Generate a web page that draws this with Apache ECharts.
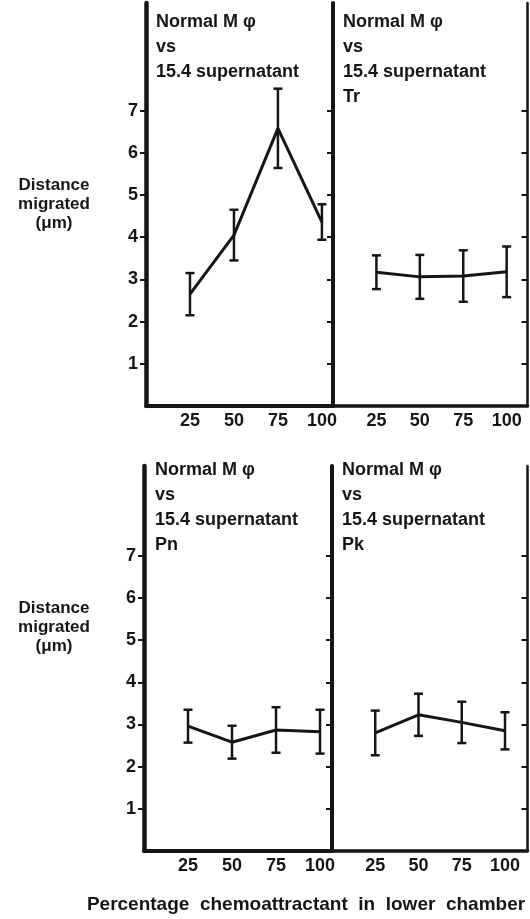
<!DOCTYPE html>
<html>
<head>
<meta charset="utf-8">
<script src="https://cdn.jsdelivr.net/npm/echarts@6/dist/echarts.min.js"></script>
<style>
  html, body { margin: 0; padding: 0; background: #fff; }
  #chart { width: 530px; height: 919px; }
</style>
</head>
<body>
<div id="chart"></div>
<script>
// percentage chemoattractant in lower chamber
const percentages = [25, 50, 75, 100];
const yTickValues = [1, 2, 3, 4, 5, 6, 7];

// mean distance migrated (µm) and error (half bar) per panel
const controlMean = [2.65, 4.05, 6.58, 4.36];
const controlErr = [0.5, 0.6, 0.94, 0.42];
const trMean = [3.17, 3.06, 3.08, 3.18];
const trErr = [0.4, 0.52, 0.61, 0.6];
const pnMean = [2.96, 2.58, 2.87, 2.83];
const pnErr = [0.39, 0.39, 0.54, 0.52];
const pkMean = [2.8, 3.23, 3.05, 2.85];
const pkErr = [0.53, 0.5, 0.49, 0.44];

const ink = '#161616';
const font = '"Liberation Sans", Arial, sans-serif';

const chart = echarts.init(document.getElementById('chart'));

function errorBarItem(params, api) {
  const x = api.value(0);
  const lo = api.coord([x, api.value(1)]);
  const hi = api.coord([x, api.value(2)]);
  const w = 4.5;
  const st = { stroke: ink, lineWidth: 2.5 };
  return {
    type: 'group',
    children: [
      { type: 'line', shape: { x1: lo[0], y1: lo[1], x2: hi[0], y2: hi[1] }, style: st },
      { type: 'line', shape: { x1: lo[0] - w, y1: lo[1], x2: lo[0] + w, y2: lo[1] }, style: st },
      { type: 'line', shape: { x1: hi[0] - w, y1: hi[1], x2: hi[0] + w, y2: hi[1] }, style: st }
    ]
  };
}

function panelSeries(mean, err, idx, yIdx) {
  return [
    {
      type: 'line',
      xAxisIndex: idx,
      yAxisIndex: yIdx,
      data: percentages.map((p, i) => [p, mean[i]]),
      symbol: 'none',
      lineStyle: { color: ink, width: 3 },
      z: 3
    },
    {
      type: 'custom',
      xAxisIndex: idx,
      yAxisIndex: yIdx,
      data: percentages.map((p, i) => [p, mean[i] - err[i], mean[i] + err[i]]),
      renderItem: errorBarItem,
      z: 4
    }
  ];
}

function xAxis(gridIndex, max, lineWidth) {
  return {
    type: 'value',
    gridIndex: gridIndex,
    min: 0,
    max: max,
    splitLine: { show: false },
    axisLine: { show: true, lineStyle: { color: ink, width: lineWidth } },
    axisTick: { show: false },
    axisLabel: {
      customValues: percentages,
      color: ink,
      fontFamily: font,
      fontWeight: 'bold',
      fontSize: 18,
      margin: 6
    }
  };
}

function yAxis(gridIndex, max, opts) {
  return {
    type: 'value',
    gridIndex: gridIndex,
    position: opts.position || 'left',
    min: 0,
    max: max,
    splitLine: { show: false },
    axisLine: { show: true, onZero: false, lineStyle: { color: ink, width: opts.lineWidth } },
    axisTick: {
      show: true,
      inside: !!opts.inside,
      length: 6,
      customValues: yTickValues,
      lineStyle: { color: ink, width: 2 }
    },
    axisLabel: {
      show: !!opts.labels,
      customValues: yTickValues,
      color: ink,
      fontFamily: font,
      fontWeight: 'bold',
      fontSize: 18,
      margin: 8
    }
  };
}

const topMax = 9.55;
const botMax = 9.13;

function panelTitle(x, y, lines) {
  return {
    type: 'text',
    left: x,
    top: y,
    style: {
      text: lines.join('\n'),
      fill: ink,
      font: 'bold 18px ' + font,
      lineHeight: 25
    }
  };
}

function yName(centerY) {
  return {
    type: 'text',
    x: 54,
    y: centerY,
    style: {
      text: 'Distance\nmigrated\n(μm)',
      fill: ink,
      font: 'bold 17px ' + font,
      lineHeight: 19,
      align: 'center',
      verticalAlign: 'middle'
    }
  };
}

const option = {
  animation: false,
  backgroundColor: '#fff',
  grid: [
    { left: 146, right: 197, top: 3, bottom: 513 },
    { left: 333, right: 2.5, top: 3, bottom: 513 },
    { left: 144, right: 198, top: 466, bottom: 68 },
    { left: 332, right: 2.5, top: 466, bottom: 68 }
  ],
  xAxis: [
    xAxis(0, 106.3, 4),
    xAxis(1, 112, 3.5),
    xAxis(2, 106.8, 4),
    xAxis(3, 113, 3.5)
  ],
  yAxis: [
    yAxis(0, topMax, { labels: true, lineWidth: 4.5 }),
    yAxis(1, topMax, { lineWidth: 4 }),
    yAxis(1, topMax, { position: 'right', inside: true, lineWidth: 2.5 }),
    yAxis(2, botMax, { labels: true, lineWidth: 4.5 }),
    yAxis(3, botMax, { lineWidth: 4 }),
    yAxis(3, botMax, { position: 'right', inside: true, lineWidth: 2.5 })
  ],
  graphic: [
    panelTitle(156, 10, ['Normal M φ', 'vs', '15.4 supernatant']),
    panelTitle(343, 10, ['Normal M φ', 'vs', '15.4 supernatant', 'Tr']),
    panelTitle(155, 458, ['Normal M φ', 'vs', '15.4 supernatant', 'Pn']),
    panelTitle(342, 458, ['Normal M φ', 'vs', '15.4 supernatant', 'Pk']),
    yName(204),
    yName(627),
    {
      type: 'text',
      x: 306,
      y: 905,
      style: {
        text: 'Percentage  chemoattractant  in  lower  chamber',
        fill: ink,
        font: 'bold 19px ' + font,
        align: 'center',
        verticalAlign: 'middle'
      }
    }
  ],
  series: [
    ...panelSeries(controlMean, controlErr, 0, 0),
    ...panelSeries(trMean, trErr, 1, 1),
    ...panelSeries(pnMean, pnErr, 2, 3),
    ...panelSeries(pkMean, pkErr, 3, 4)
  ]
};

chart.setOption(option);
</script>
</body>
</html>
